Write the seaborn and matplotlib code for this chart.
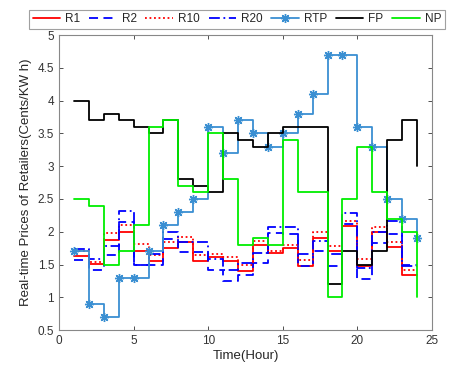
import numpy as np
import pandas as pd
import matplotlib
matplotlib.use("Agg")
import matplotlib.pyplot as plt
import seaborn as sns

# Часы
hours = list(range(1, 25))

# Цены ритейлеров (центы/кВт·ч)
r1 = [1.63, 1.51, 1.88, 2.00, 1.71, 1.56, 1.75, 1.85, 1.55, 1.62, 1.55, 1.40,
      1.80, 1.67, 1.75, 1.48, 1.90, 1.70, 2.09, 1.48, 2.00, 1.76, 1.34, 1.34]
r2 = [1.57, 1.42, 1.64, 2.15, 1.49, 1.49, 1.89, 1.69, 1.69, 1.42, 1.25, 1.34,
      1.52, 1.98, 1.96, 1.48, 1.70, 1.48, 2.12, 1.28, 1.83, 1.97, 1.50, 1.50]
r10 = [1.70, 1.54, 1.98, 2.10, 1.82, 1.65, 1.85, 1.92, 1.65, 1.66, 1.62, 1.49,
       1.86, 1.70, 1.80, 1.57, 1.99, 1.79, 2.17, 1.58, 2.08, 1.85, 1.42, 1.42]
r20 = [1.74, 1.58, 1.79, 2.31, 1.49, 1.66, 1.99, 1.85, 1.85, 1.58, 1.41, 1.52,
       1.68, 2.08, 2.08, 1.66, 1.86, 1.66, 2.29, 1.45, 2.00, 2.17, 1.48, 1.48]
rtp = [1.7, 0.9, 0.7, 1.3, 1.3, 1.7, 2.1, 2.3, 2.5, 3.6, 3.2, 3.7,
       3.5, 3.3, 3.5, 3.8, 4.1, 4.7, 4.7, 3.6, 3.3, 2.5, 2.2, 1.9]
fp = [4.0, 3.7, 3.8, 3.7, 3.6, 3.5, 3.7, 2.8, 2.7, 2.6, 3.5, 3.4,
      3.3, 3.5, 3.6, 3.6, 3.6, 1.2, 1.7, 1.5, 1.7, 3.4, 3.7, 3.0]
np_ = [2.5, 2.4, 1.5, 1.7, 2.1, 3.6, 3.7, 2.7, 2.6, 3.5, 2.8, 1.8,
       1.9, 1.8, 3.4, 2.6, 2.6, 1.0, 2.5, 3.3, 2.6, 2.2, 2.0, 1.0]

x_ticks = [0, 5, 10, 15, 20, 25]
y_ticks = [0.5, 1, 1.5, 2, 2.5, 3, 3.5, 4, 4.5, 5]
y_tick_labels = ["0.5", "1", "1.5", "2", "2.5", "3", "3.5", "4", "4.5", "5"]

sns.set_style("ticks")
plt.rcParams["font.family"] = ["Liberation Sans", "DejaVu Sans"]

fig = plt.figure(figsize=(4.63, 3.82), dpi=100)
ax = fig.add_axes([0.1274, 0.136, 0.8056, 0.772])

series = [
    ("R1", r1, dict(color="#ff0000", linestyle="-")),
    ("R2", r2, dict(color="#0000ff", linestyle=(0, (5, 3)))),
    ("R10", r10, dict(color="#ff0000", linestyle=(0, (1, 1.5)))),
    ("R20", r20, dict(color="#0000ff", linestyle=(0, (6, 2, 1, 2)))),
    ("RTP", rtp, dict(color="#3a8fd2", linestyle="-", marker=(8, 2, 0),
                      markersize=6.5, markeredgewidth=1.0)),
    ("FP", fp, dict(color="#000000", linestyle="-")),
    ("NP", np_, dict(color="#00ee00", linestyle="-")),
]

for name, vals, style in series:
    df = pd.DataFrame({"Hour": hours, "Price": vals})
    sns.lineplot(data=df, x="Hour", y="Price", ax=ax, drawstyle="steps-post",
                 linewidth=1.3, label=name, color=style["color"])
    line = ax.lines[-1]
    line.set_linestyle(style["linestyle"])
    if "marker" in style:
        line.set_marker(style["marker"])
        line.set_markersize(style["markersize"])
        line.set_markeredgewidth(style["markeredgewidth"])
        line.set_markeredgecolor(style["color"])
        line.set_markerfacecolor(style["color"])

ax.set_xlim(0, 25)
ax.set_ylim(0.5, 5)
ax.set_xticks(x_ticks)
ax.set_yticks(y_ticks)
ax.set_yticklabels(y_tick_labels)
ax.tick_params(direction="in", top=True, right=True, labelsize=8.5,
               colors="#333333", length=3, width=0.6)
for sp in ax.spines.values():
    sp.set_visible(True)
    sp.set_color("#888888")
    sp.set_linewidth(0.8)

ax.set_xlabel("Time(Hour)", fontsize=9.5, color="#262626", labelpad=2)
ax.set_ylabel("Real-time Prices of Retailers(Cents/KW h)", fontsize=9.5,
              color="#262626", labelpad=4)

ax.get_legend().remove()
handles, labels = ax.get_legend_handles_labels()
leg = fig.legend(handles, labels, loc="center", bbox_to_anchor=(0.512, 0.95),
                 ncol=7, fontsize=8.5, frameon=True, fancybox=False,
                 handlelength=2.3, columnspacing=0.75, handletextpad=0.45,
                 borderpad=0.3, borderaxespad=0)
leg.get_frame().set_edgecolor("#888888")
leg.get_frame().set_linewidth(0.8)

fig.savefig("out.png", dpi=100)
